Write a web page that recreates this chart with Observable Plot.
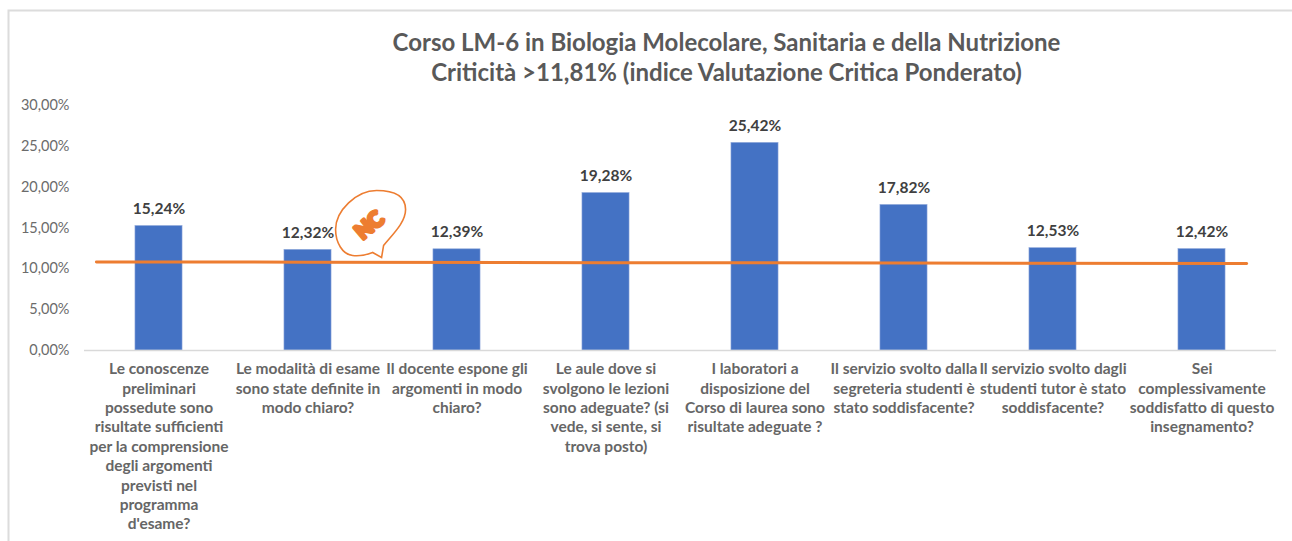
<!DOCTYPE html>
<html><head><meta charset="utf-8">
<script src="https://cdn.jsdelivr.net/npm/d3@7"></script>
<script src="https://cdn.jsdelivr.net/npm/@observablehq/plot@0.6"></script>
<style>html,body{margin:0;padding:0;background:#fff;overflow:hidden}svg{display:block}</style>
</head><body><div id="chart"></div>
<script>
const titleText = "Corso LM-6 in Biologia Molecolare, Sanitaria e della Nutrizione\nCriticità >11,81% (indice Valutazione Critica Ponderato)";
const categories = [
"Le conoscenze\npreliminari\npossedute sono\nrisultate sufficienti\nper la comprensione\ndegli argomenti\nprevisti nel\nprogramma\nd'esame?",
"Le modalità di esame\nsono state definite in\nmodo chiaro?",
"Il docente espone gli\nargomenti in modo\nchiaro?",
"Le aule dove si\nsvolgono le lezioni\nsono adeguate? (si\nvede, si sente, si\ntrova posto)",
"I laboratori a\ndisposizione del\nCorso di laurea sono\nrisultate adeguate ?",
"Il servizio svolto dalla\nsegreteria studenti è\nstato soddisfacente?",
"Il servizio svolto dagli\nstudenti tutor è stato\nsoddisfacente?",
"Sei\ncomplessivamente\nsoddisfatto di questo\ninsegnamento?"];
const values = [15.24, 12.32, 12.39, 19.28, 25.42, 17.82, 12.53, 12.42];
const yTicks = [0, 5, 10, 15, 20, 25, 30];
const trendX = [0.08, 1.5, 3.5, 5.5, 7.8];
const trendY = [10.85, 10.82, 10.76, 10.72, 10.65];
const fmt = v => v.toFixed(2).replace(".", ",") + "%";
const rows = categories.map((c, i) => ({c, v: values[i], mid: i + 0.5, x1: i + 0.342, x2: i + 0.658}));
const trend = trendX.map((x, i) => ({x, y: trendY[i]}));
const badge = [{x: 1.92, y: 15.43}];
const bubble = {draw(ctx, size) {
  const s = Math.sqrt(size / Math.PI) / 39.5;
  ctx.moveTo(2*s, 28*s);
  ctx.bezierCurveTo(-6*s, 31*s, -12*s, 32*s, -18*s, 31*s);
  ctx.bezierCurveTo(-28*s, 30*s, -35*s, 18*s, -35*s, 5*s);
  ctx.bezierCurveTo(-35*s, -14*s, -14*s, -34*s, 6*s, -34*s);
  ctx.bezierCurveTo(24*s, -34*s, 35*s, -28*s, 35*s, -15*s);
  ctx.bezierCurveTo(35*s, -2*s, 22*s, 10*s, 13*s, 21*s);
  ctx.lineTo(11*s, 33*s);
  ctx.closePath();
}};
const font = "Lato, Carlito, sans-serif";
const chart = Plot.plot({
  width: 1292, height: 541,
  marginLeft: 84, marginRight: 16, marginTop: 105, marginBottom: 191,
  style: {fontFamily: font, background: "#fff", overflow: "visible"},
  x: {domain: [0, 8], axis: null},
  y: {domain: [0, 30], axis: null},
  marks: [
    Plot.frame({stroke: "#dcdcdc", strokeWidth: 2, insetLeft: -76, insetRight: -40, insetTop: -95, insetBottom: -240}),
    Plot.rectY(rows, {x1: "x1", x2: "x2", y: "v", fill: "#4472C4", stroke: "#8fa8da", strokeWidth: 0.6}),
    Plot.ruleY([0], {stroke: "#d9d9d9", strokeWidth: 1.5}),
    Plot.axisY({ticks: yTicks, tickSize: 0, tickPadding: 15, label: null, tickFormat: fmt, fontSize: 14.5, fill: "#6b6b6b", fontWeight: 400}),
    Plot.text(rows, {x: "mid", y: "v", text: d => fmt(d.v), dy: -17, fontSize: 15.5, fontWeight: 700, fill: "#404040"}),
    Plot.line(trend, {x: "x", y: "y", stroke: "#ED7D31", strokeWidth: 3, curve: "linear"}),
    Plot.text(rows, {x: "mid", text: "c", frameAnchor: "bottom", lineAnchor: "top", dy: 10, lineHeight: 1.25, fontSize: 15.5, fontWeight: 700, fill: "#666666"}),
    Plot.dot(badge, {x: "x", y: "y", symbol: bubble, r: 39.5, fill: "none", stroke: "#ED7D31", strokeWidth: 1.6}),
    Plot.text(badge, {x: "x", y: "y", text: () => "NC", dx: -1, dy: 1, fontSize: 21, fontWeight: 900, fill: "#ED7D31", stroke: "#ED7D31", strokeWidth: 3.5, rotate: -40}),
    Plot.text([titleText], {x: () => 4, text: d => d, frameAnchor: "top", lineAnchor: "top", dx: 46, dy: -76, lineHeight: 1.25, fontSize: 24, fontWeight: 700, fill: "#595959"})
  ]
});
document.getElementById("chart").append(chart);
</script></body></html>
